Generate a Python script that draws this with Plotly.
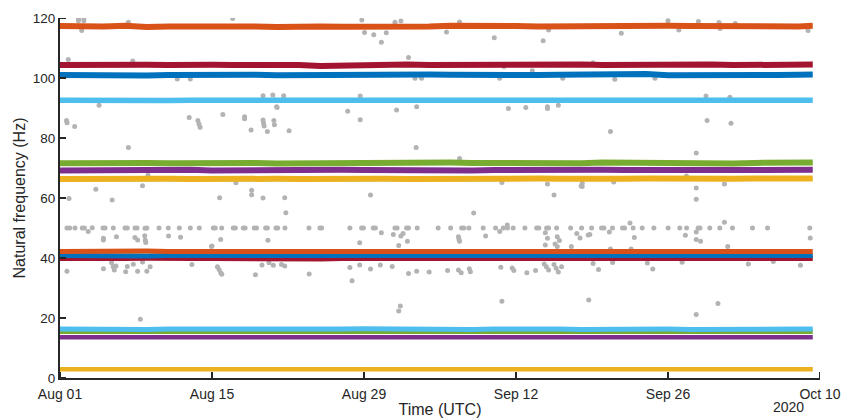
import pandas as pd
import plotly.graph_objects as go

# ---------------- data ----------------
# band sample dates (every 2 days, last sample on Oct 9)
band_dates = [
    "2020-08-01", "2020-08-03", "2020-08-05", "2020-08-07", "2020-08-09", "2020-08-11",
    "2020-08-13", "2020-08-15", "2020-08-17", "2020-08-19", "2020-08-21", "2020-08-23",
    "2020-08-25", "2020-08-27", "2020-08-29", "2020-08-31", "2020-09-02", "2020-09-04",
    "2020-09-06", "2020-09-08", "2020-09-10", "2020-09-12", "2020-09-14", "2020-09-16",
    "2020-09-18", "2020-09-20", "2020-09-22", "2020-09-24", "2020-09-26", "2020-09-28",
    "2020-09-30", "2020-10-02", "2020-10-04", "2020-10-06", "2020-10-08", "2020-10-09 08:00",
]

f_117 = [117.3, 117.1, 117.2, 117.4, 117.0, 117.2, 117.3, 117.1, 117.2, 117.2, 117.0, 117.3,
         117.2, 117.1, 117.0, 117.2, 117.3, 117.2, 117.4, 117.2, 117.1, 117.3, 117.2, 117.3,
         117.2, 117.1, 117.3, 117.2, 117.4, 117.3, 117.2, 117.1, 117.3, 117.2, 117.2, 117.4]
f_104 = [104.3, 104.4, 104.2, 104.5, 104.4, 104.3, 104.5, 104.4, 104.3, 104.4, 104.5, 104.3,
         104.0, 104.2, 104.3, 104.4, 104.5, 104.3, 104.4, 104.3, 104.5, 104.4, 104.6, 104.4,
         104.5, 104.3, 104.4, 104.5, 104.6, 104.4, 104.5, 104.3, 104.4, 104.5, 104.4, 104.5]
f_101 = [101.0, 100.9, 101.1, 101.0, 100.8, 101.0, 101.1, 100.9, 101.0, 101.1, 100.9, 101.0,
         100.8, 101.0, 101.1, 100.9, 101.0, 101.2, 101.1, 101.0, 101.2, 101.1, 101.0, 101.1,
         101.2, 101.0, 101.1, 101.3, 100.9, 101.0, 101.2, 101.1, 101.2, 101.0, 101.1, 101.2]
f_93 = [92.6, 92.5, 92.6, 92.7, 92.6, 92.5, 92.6, 92.6, 92.7, 92.6, 92.5, 92.6,
        92.7, 92.6, 92.6, 92.5, 92.6, 92.7, 92.6, 92.6, 92.5, 92.6, 92.7, 92.6,
        92.5, 92.6, 92.6, 92.7, 92.6, 92.6, 92.5, 92.6, 92.7, 92.6, 92.6, 92.6]
f_72 = [71.6, 71.7, 71.6, 71.8, 71.7, 71.6, 71.7, 71.8, 71.6, 71.7, 71.5, 71.6,
        71.7, 71.6, 71.7, 71.8, 71.6, 71.7, 71.8, 71.7, 71.6, 71.7, 71.8, 71.7,
        71.6, 71.8, 71.7, 71.7, 71.8, 71.7, 71.6, 71.5, 71.7, 71.6, 71.7, 71.8]
f_69 = [69.2, 69.3, 69.2, 69.3, 69.2, 69.3, 69.4, 69.2, 69.3, 69.2, 69.3, 69.2,
        69.3, 69.4, 69.3, 69.2, 69.3, 69.4, 69.3, 69.2, 69.3, 69.4, 69.3, 69.2,
        69.3, 69.4, 69.3, 69.3, 69.2, 69.3, 69.4, 69.3, 69.4, 69.3, 69.4, 69.4]
f_66 = [66.3, 66.4, 66.2, 66.4, 66.3, 66.4, 66.3, 66.2, 66.4, 66.3, 66.4, 66.3,
        66.4, 66.5, 66.3, 66.4, 66.3, 66.4, 66.5, 66.4, 66.3, 66.4, 66.5, 66.4,
        66.3, 66.5, 66.4, 66.5, 66.4, 66.4, 66.5, 66.4, 66.5, 66.4, 66.5, 66.5]
f_42 = [42.2, 42.3, 42.2, 42.1, 42.3, 42.2, 42.2, 42.3, 42.1, 42.2, 42.3, 42.2,
        42.2, 42.3, 42.2, 42.1, 42.2, 42.3, 42.2, 42.2, 42.3, 42.2, 42.1, 42.2,
        42.3, 42.2, 42.2, 42.3, 42.2, 42.1, 42.2, 42.3, 42.2, 42.2, 42.3, 42.2]
f_41 = [40.8, 40.7, 40.8, 40.9, 40.7, 40.8, 40.8, 40.9, 40.7, 40.8, 40.8, 40.7,
        40.8, 40.9, 40.8, 40.7, 40.8, 40.8, 40.9, 40.8, 40.7, 40.8, 40.8, 40.9,
        40.8, 40.7, 40.8, 40.9, 40.8, 40.8, 40.7, 40.8, 40.9, 40.8, 40.7, 40.8]
f_40 = [39.8, 39.7, 39.8, 39.8, 39.9, 39.7, 39.8, 39.8, 39.7, 39.8, 39.9, 39.8,
        39.7, 39.8, 39.8, 39.9, 39.7, 39.8, 39.8, 39.7, 39.8, 39.9, 39.8, 39.7,
        39.8, 39.8, 39.9, 39.8, 39.7, 39.8, 39.8, 39.9, 39.8, 39.7, 39.8, 39.8]
f_16 = [16.3, 16.2, 16.3, 16.3, 16.2, 16.3, 16.4, 16.3, 16.2, 16.3, 16.3, 16.2,
        16.3, 16.3, 16.4, 16.3, 16.2, 16.3, 16.3, 16.2, 16.3, 16.4, 16.3, 16.3,
        16.2, 16.3, 16.3, 16.4, 16.3, 16.2, 16.3, 16.3, 16.2, 16.3, 16.3, 16.3]
f_15 = [15.4, 15.4, 15.3, 15.4, 15.4, 15.4, 15.3, 15.4, 15.4, 15.4, 15.3, 15.4,
        15.4, 15.4, 15.4, 15.3, 15.4, 15.4, 15.4, 15.3, 15.4, 15.4, 15.4, 15.4,
        15.3, 15.4, 15.4, 15.4, 15.3, 15.4, 15.4, 15.4, 15.4, 15.3, 15.4, 15.4]
f_14 = [13.6, 13.6, 13.5, 13.6, 13.6, 13.6, 13.5, 13.6, 13.6, 13.6, 13.6, 13.5,
        13.6, 13.6, 13.6, 13.5, 13.6, 13.6, 13.6, 13.6, 13.5, 13.6, 13.6, 13.6,
        13.6, 13.5, 13.6, 13.6, 13.6, 13.6, 13.5, 13.6, 13.6, 13.6, 13.6, 13.6]
f_3 = [2.9, 2.9, 2.9, 2.8, 2.9, 2.9, 2.9, 2.9, 2.8, 2.9, 2.9, 2.9,
       2.9, 2.9, 2.8, 2.9, 2.9, 2.9, 2.9, 2.9, 2.8, 2.9, 2.9, 2.9,
       2.9, 2.9, 2.9, 2.8, 2.9, 2.9, 2.9, 2.9, 2.9, 2.8, 2.9, 2.9]

# outlier / unassigned identifications: days after Aug 01 and frequency (Hz)
gray_days = [
    # 110-120 Hz
    1.7, 1.7, 2.2, 2.2, 2.0, 6.3, 15.9, 27.8, 28.05, 28.9, 29.6, 30.05, 30.85, 31.4, 35.6,
    36.8, 40.0, 44.5, 45.0, 51.7, 56.0, 57.0, 58.8, 60.7, 60.8, 62.2, 68.9,
    # 99-107 Hz
    0.76, 6.7, 32.1, 40.9, 43.5, 49.1, 10.8, 12.0, 46.3, 51.1, 54.8, 32.7, 33.3, 40.5,
    # 88-95 Hz
    18.7, 18.8, 19.6, 19.8, 20.0, 20.6, 20.7, 3.6, 19.95, 27.65, 26.5, 31.0, 32.85,
    41.3, 42.9, 44.9, 44.9, 45.9, 59.5, 61.7,
    # 80-88 Hz
    0.6, 0.65, 1.35, 11.9, 12.7, 12.8, 12.9, 15.0, 17.0, 17.0, 17.6, 18.7, 18.75, 18.8,
    19.1, 19.7, 19.75, 21.1, 27.65, 50.7, 59.6, 61.8,
    # 70-80 Hz
    6.3, 32.8, 36.8, 58.6,
    # 55-68 Hz
    8.1, 7.6, 3.3, 0.83, 4.8, 14.7, 16.2, 17.65, 17.65, 18.7, 20.7, 20.8, 28.6, 38.1,
    40.7, 44.9, 45.5, 48.1, 48.1, 48.0, 51.0, 57.7, 58.6, 58.6, 61.2,
    # 50 Hz row
    0.64, 0.9, 1.38, 2.05, 2.25, 2.97, 3.96, 4.15, 4.91, 5.99, 6.2, 6.91, 7.1, 7.83, 8.0,
    9.12, 9.97, 10.99, 12.0, 12.83, 14.12, 14.3, 14.89, 15.96, 16.15, 16.88, 17.05,
    17.89, 18.1, 18.94, 19.1, 19.89, 20.05, 20.72, 22.93, 23.94, 24.1, 26.7, 27.78, 27.95,
    28.85, 29.05, 30.85, 31.05, 31.92, 32.1, 32.9, 34.83, 35.98, 36.99, 37.2, 37.66,
    38.98, 40.12, 40.82, 41.22, 41.74, 42.82, 43.9, 44.1, 44.82, 45.0, 45.74, 47.03,
    48.04, 48.96, 49.88, 50.1, 50.89, 51.81, 52.0, 52.79, 53.62, 54.7, 56.01, 57.09,
    57.71, 58.78, 58.95, 59.85, 60.77, 61.94, 63.78, 65.17, 69.06,
    # 43-52 Hz
    2.6, 4.0, 4.0, 5.2, 6.9, 7.15, 7.8, 7.85, 7.9, 10.0, 11.1, 14.0, 14.8, 19.15, 29.6,
    30.7, 31.4, 31.6, 32.0, 31.2, 27.6, 36.7, 36.75, 36.8, 39.2, 40.5, 41.2, 44.7, 44.9,
    45.8, 46.0, 44.7, 45.6, 45.8, 47.6, 47.9, 48.65, 47.1, 52.5, 50.6, 48.8, 52.9, 57.6,
    58.6, 58.6, 59.0, 61.2, 69.1, 61.5, 50.7, 52.6, 13.95,
    # 30-39 Hz
    0.64, 4.0, 4.75, 4.9, 5.0, 5.15, 6.05, 6.2, 6.75, 7.15, 7.6, 8.0, 8.3, 12.15, 14.5,
    14.65, 14.8, 14.9, 18.0, 18.6, 19.25, 19.65, 20.4, 20.7, 22.95, 26.7, 26.9, 27.6,
    28.6, 29.5, 30.6, 32.1, 32.85, 34.0, 35.7, 36.7, 36.95, 37.7, 37.8, 40.6, 41.65,
    41.8, 43.0, 43.8, 44.6, 44.8, 45.0, 45.5, 45.7, 45.9, 46.2, 49.1, 49.6, 50.9, 54.1,
    54.6, 57.3, 63.4, 65.7, 68.2,
    # below 30 Hz
    7.4, 31.35, 31.2, 40.7, 48.7, 58.6, 60.6,
]
gray_hz = [
    # 110-120 Hz
    119.8, 119.1, 119.8, 119.1, 115.8, 118.6, 119.8, 119.3, 115.2, 114.4, 111.9, 115.1,
    118.6, 119.0, 115.3, 118.7, 113.4, 112.4, 116.0, 114.9, 119.1, 116.0, 118.8, 118.5,
    116.5, 118.2, 115.8,
    # 99-107 Hz
    106.2, 105.7, 106.8, 103.8, 102.4, 105.1, 99.7, 99.7, 99.9, 99.6, 99.9, 99.9, 99.9, 99.9,
    # 88-95 Hz
    94.1, 92.7, 94.3, 92.7, 90.2, 94.1, 92.7, 90.9, 90.4, 94.0, 88.9, 89.3, 90.4,
    89.8, 90.2, 90.4, 89.8, 90.9, 94.0, 93.6,
    # 80-88 Hz
    85.8, 85.1, 83.8, 86.8, 85.8, 84.7, 83.6, 87.8, 87.1, 86.4, 82.7, 86.0, 84.9, 84.0,
    82.2, 85.8, 84.4, 82.4, 86.1, 82.2, 85.8, 84.9,
    # 70-80 Hz
    76.8, 76.8, 73.2, 75.0,
    # 55-68 Hz
    67.7, 64.1, 62.9, 59.8, 59.3, 60.1, 65.1, 62.6, 61.1, 60.0, 60.1, 55.1, 61.0, 55.0,
    65.2, 64.7, 61.0, 64.9, 63.8, 64.0, 65.3, 67.3, 63.3, 59.6, 64.7,
    # 50 Hz row
    50.0, 50.0, 50.0, 50.0, 50.0, 50.1, 50.0, 50.0, 50.0, 50.0, 50.0, 50.0, 50.0, 49.9, 50.0,
    50.0, 50.0, 50.0, 50.0, 50.0, 50.0, 50.0, 50.0, 50.0, 50.0, 50.0, 50.0,
    50.0, 50.0, 50.0, 50.0, 50.0, 50.0, 50.0, 50.0, 50.0, 50.0, 50.0, 50.0, 50.0,
    50.0, 50.0, 50.0, 50.0, 50.0, 50.0, 50.0, 50.0, 50.0, 50.0, 50.0, 50.0,
    50.0, 50.0, 50.0, 50.0, 50.0, 50.0, 50.0, 50.0, 50.0, 50.0, 50.0, 50.0,
    50.0, 50.0, 50.0, 50.0, 50.0, 50.0, 50.0, 50.0, 50.0, 50.0, 50.0, 50.0,
    50.0, 50.0, 50.0, 50.0, 50.0, 50.0, 50.0, 50.0, 50.0,
    # 43-52 Hz
    48.8, 46.6, 46.0, 47.1, 46.8, 46.0, 47.4, 46.0, 45.2, 47.3, 46.9, 44.0, 46.2, 45.9, 48.4,
    47.8, 47.3, 48.2, 45.6, 44.2, 45.1, 47.1, 46.2, 45.6, 47.3, 48.8, 51.0, 48.4, 46.6,
    47.1, 45.8, 44.3, 44.7, 43.8, 48.2, 46.7, 47.7, 43.8, 51.7, 48.7, 47.8, 46.8, 47.6,
    48.7, 46.2, 45.6, 51.9, 46.7, 43.8, 43.0, 43.0, 43.8,
    # 30-39 Hz
    35.6, 36.4, 38.4, 37.1, 36.0, 37.3, 35.4, 37.2, 37.9, 35.6, 38.7, 35.6, 37.1, 37.8, 37.1,
    36.2, 35.1, 34.6, 34.4, 37.7, 38.4, 37.6, 37.8, 37.3, 34.7, 36.8, 32.4, 37.7,
    36.3, 37.7, 37.2, 34.8, 35.6, 35.3, 35.8, 36.0, 35.1, 36.4, 35.4, 36.9, 36.7,
    35.8, 35.1, 35.8, 38.0, 37.1, 36.0, 37.8, 36.6, 35.3, 37.1, 38.2, 36.2, 38.5, 38.3,
    36.3, 38.6, 38.0, 38.8, 37.6,
    # below 30 Hz
    19.6, 24.0, 22.3, 25.6, 26.0, 21.2, 24.8,
]

x_tick_dates = ["2020-08-01", "2020-08-15", "2020-08-29", "2020-09-12", "2020-09-26", "2020-10-10"]
x_tick_labels = ["Aug 01", "Aug 15", "Aug 29", "Sep 12", "Sep 26", "Oct 10"]
y_tick_values = [0, 20, 40, 60, 80, 100, 120]

# ---------------- styles ----------------
BLUE, ORANGE, YELLOW, PURPLE = "#0072BD", "#D95319", "#EDB120", "#7E2F8E"
GREEN, LBLUE, CRIMSON = "#77AC30", "#4DBEEE", "#A2142F"
INK = "#262626"
FONT = "Liberation Sans, Arial, Helvetica, sans-serif"
PLOT_W, PLOT_H, TICK_PX = 760, 360, 6

bands = [
    (f_3, YELLOW, 4.5),
    (f_14, PURPLE, 4.5),
    (f_15, GREEN, 4.5),
    (f_16, LBLUE, 5),
    (f_40, CRIMSON, 5),
    (f_41, BLUE, 5),
    (f_42, ORANGE, 5),
    (f_66, YELLOW, 6),
    (f_69, PURPLE, 6),
    (f_72, GREEN, 6),
    (f_93, LBLUE, 5.5),
    (f_101, BLUE, 6),
    (f_104, CRIMSON, 6),
    (f_117, ORANGE, 6),
]

start = pd.Timestamp("2020-08-01")
gray_time = [(start + pd.Timedelta(days=d)).strftime("%Y-%m-%d %H:%M:%S") for d in gray_days]

fig = go.Figure()
fig.add_trace(go.Scatter(
    x=gray_time, y=gray_hz, mode="markers",
    marker=dict(size=5, color="#b3b3b3", line=dict(width=0)),
    hoverinfo="skip", showlegend=False,
))
for vals, col, w in bands:
    fig.add_trace(go.Scatter(
        x=band_dates, y=vals, mode="lines",
        line=dict(color=col, width=w),
        showlegend=False, hoverinfo="skip",
    ))

axis_common = dict(
    ticks="inside", ticklen=6, tickwidth=2, tickcolor=INK,
    showline=True, linecolor=INK, linewidth=2, mirror=False,
    showgrid=False, zeroline=False, automargin=False, layer="above traces",
)

fig.update_layout(
    width=842, height=418,
    margin=dict(l=60, r=22, t=18, b=40, autoexpand=False),
    paper_bgcolor="white", plot_bgcolor="white",
    font=dict(family=FONT, color=INK),
    showlegend=False,
    xaxis=dict(
        type="date", range=["2020-08-01", "2020-10-10"],
        tickmode="array", tickvals=x_tick_dates, ticktext=x_tick_labels,
        tickfont=dict(size=14, color=INK, family=FONT),
        ticklabelstandoff=2,
        title=dict(text="Time (UTC)", font=dict(size=16, color=INK, family=FONT), standoff=3),
        **axis_common,
    ),
    yaxis=dict(
        range=[0, 120], tickmode="array", tickvals=y_tick_values,
        tickfont=dict(size=13.5, color=INK, family=FONT),
        title=dict(text="Natural frequency (Hz)", font=dict(size=16, color=INK, family=FONT), standoff=3),
        **axis_common,
    ),
)

# MATLAB-style inward tick marks, placed at the axis tick values
for d in x_tick_dates:
    fig.add_shape(type="line", xref="x", yref="paper", x0=d, x1=d, y0=0, y1=TICK_PX / PLOT_H,
                  line=dict(color=INK, width=2), layer="above")
for v in y_tick_values:
    fig.add_shape(type="line", xref="paper", yref="y", x0=0, x1=TICK_PX / PLOT_W, y0=v, y1=v,
                  line=dict(color=INK, width=2), layer="above")

fig.add_annotation(
    text="2020", xref="paper", yref="paper", x=0.959, y=-0.0806,
    showarrow=False, font=dict(size=14, color=INK, family=FONT),
    xanchor="center", yanchor="middle",
)

fig.write_html("out.html")
